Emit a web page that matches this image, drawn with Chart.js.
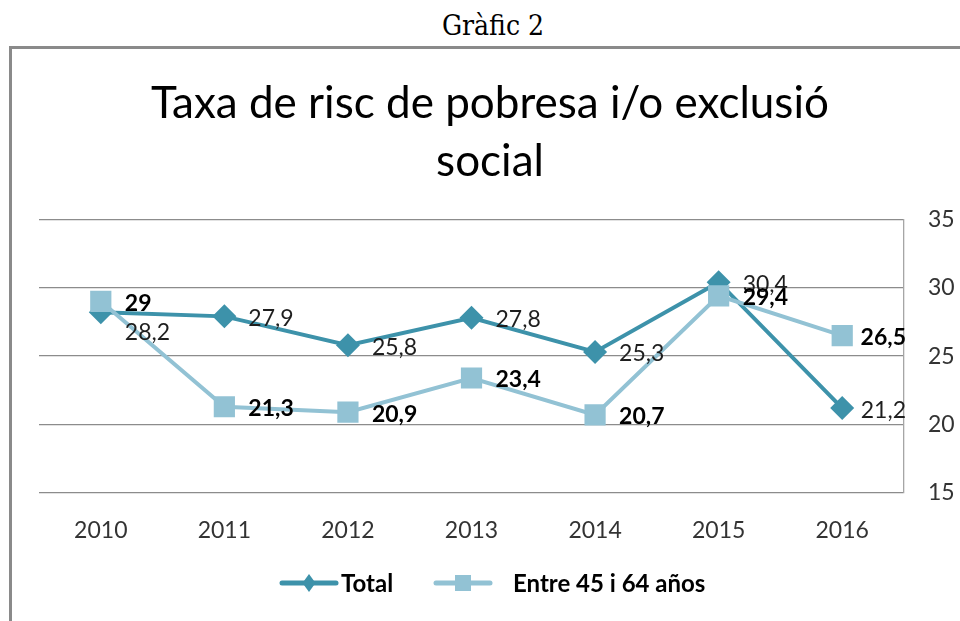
<!DOCTYPE html>
<html>
<head>
<meta charset="utf-8">
<script src="https://cdn.jsdelivr.net/npm/chart.js@4.4.1/dist/chart.umd.min.js"></script>
<style>
html,body{margin:0;padding:0;background:#fff;width:960px;height:621px;overflow:hidden;}
#cap{position:absolute;left:0;top:-1px;width:986px;text-align:center;font-family:"DejaVu Serif Condensed","DejaVu Serif",serif;font-size:28px;line-height:54px;color:#000;}
#box{position:absolute;left:9px;top:46px;width:1000px;height:700px;border:3px solid #8a8a8a;box-sizing:border-box;}
#wrap{position:absolute;left:0;top:0;width:960px;height:621px;}
</style>
</head>
<body>
<div id="cap">Gràfic 2</div>
<div id="box"></div>
<div id="wrap"><canvas id="c"></canvas></div>
<script>
const years = ['2010','2011','2012','2013','2014','2015','2016'];
const totalValues = [28.2, 27.9, 25.8, 27.8, 25.3, 30.4, 21.2];
const ageValues = [29, 21.3, 20.9, 23.4, 20.7, 29.4, 26.5];
const seriesNames = ['Total', 'Entre 45 i 64 años'];
const yMin = 15, yMax = 35, yStep = 5;
const titleLines = ['Taxa de risc de pobresa i/o exclusió', 'social'];

const C_TOTAL = '#3d92aa';
const C_AGE = '#92c2d4';
const FONT = 'Lato';

const labelPlugin = {
  id: 'vlabels',
  afterDatasetsDraw(chart) {
    const ctx = chart.ctx, area = chart.chartArea;
    ctx.save();
    ctx.textBaseline = 'middle';
    ctx.textAlign = 'left';
    chart.data.datasets.forEach((ds, di) => {
      const meta = chart.getDatasetMeta(di);
      const other = chart.getDatasetMeta(1 - di);
      ctx.font = (di === 1 ? 'bold ' : '') + '23px ' + FONT;
      ctx.fillStyle = di === 1 ? '#000' : '#1e1e1e';
      meta.data.forEach((pt, i) => {
        const txt = String(ds.data[i]).replace('.', ',');
        let y = pt.y + 2;
        const op = other.data[i];
        if (Math.abs(op.y - pt.y) < 12 && pt.y > op.y) y += 18;
        let x = pt.x + 24;
        const w = ctx.measureText(txt).width;
        if (x + w > area.right + 2) x = area.right + 2 - w;
        ctx.fillText(txt, x, y);
      });
    });
    ctx.restore();
  }
};

const legendPlugin = {
  id: 'xlegend',
  afterDraw(chart) {
    const ctx = chart.ctx;
    const y = 583;
    const items = [
      {x0: 282, x1: 336, tx: 341, color: C_TOTAL, style: 'diamond'},
      {x0: 436, x1: 490, tx: 513, color: C_AGE, style: 'square'}
    ];
    ctx.save();
    items.forEach((it, i) => {
      ctx.strokeStyle = it.color;
      ctx.fillStyle = it.color;
      ctx.lineWidth = 5;
      ctx.lineCap = 'round';
      ctx.beginPath(); ctx.moveTo(it.x0, y); ctx.lineTo(it.x1, y); ctx.stroke();
      const cx = (it.x0 + it.x1) / 2;
      if (it.style === 'diamond') {
        ctx.beginPath();
        ctx.moveTo(cx, y - 9); ctx.lineTo(cx + 6.5, y); ctx.lineTo(cx, y + 9); ctx.lineTo(cx - 6.5, y);
        ctx.closePath(); ctx.fill();
      } else {
        ctx.fillRect(cx - 8, y - 8, 16, 16);
      }
      ctx.fillStyle = '#000';
      ctx.font = 'bold 24px ' + FONT;
      ctx.textBaseline = 'middle';
      ctx.textAlign = 'left';
      ctx.fillText(chart.data.datasets[i].label, it.tx, y + 1);
    });
    ctx.restore();
  }
};

new Chart(document.getElementById('c'), {
  type: 'line',
  data: {
    labels: years,
    datasets: [
      {
        label: seriesNames[0], data: totalValues, order: 2,
        borderColor: C_TOTAL, backgroundColor: C_TOTAL, borderWidth: 4,
        pointStyle: 'rectRot', pointRadius: 12, pointHoverRadius: 12, pointBorderWidth: 0,
        tension: 0, fill: false, yAxisID: 'y'
      },
      {
        label: seriesNames[1], data: ageValues, order: 1,
        borderColor: C_AGE, backgroundColor: C_AGE, borderWidth: 4,
        pointStyle: 'rect', pointRadius: 15, pointHoverRadius: 15, pointBorderWidth: 0,
        tension: 0, fill: false, yAxisID: 'y'
      }
    ]
  },
  options: {
    responsive: true, maintainAspectRatio: false, animation: false,
    layout: {padding: {left: 20, right: 0, top: 75, bottom: 0}},
    plugins: {
      legend: {display: false},
      tooltip: {enabled: false},
      title: {
        display: true, text: titleLines, color: '#000',
        font: {family: FONT, size: 44, weight: 'normal', lineHeight: 1.32},
        padding: {top: 0, bottom: 28}
      }
    },
    scales: {
      x: {
        offset: true,
        grid: {display: false},
        border: {display: false},
        ticks: {color: '#333', font: {family: FONT, size: 23}, padding: 16},
        afterFit(s) { s.height = 128; }
      },
      y: {
        position: 'right', min: yMin, max: yMax,
        grid: {color: '#8c8c8c', lineWidth: 1.3, drawTicks: false},
        border: {display: true, color: '#a6a6a6', width: 1.3},
        ticks: {stepSize: yStep, color: '#333', font: {family: FONT, size: 23}, padding: 24},
        afterFit(s) { s.width = 56; }
      },
      yl: {
        position: 'left', min: yMin, max: yMax,
        grid: {display: false, drawOnChartArea: false},
        border: {display: false},
        ticks: {display: false},
        afterFit(s) { s.width = 19; }
      }
    }
  },
  plugins: [labelPlugin, legendPlugin]
});
</script>
</body>
</html>
